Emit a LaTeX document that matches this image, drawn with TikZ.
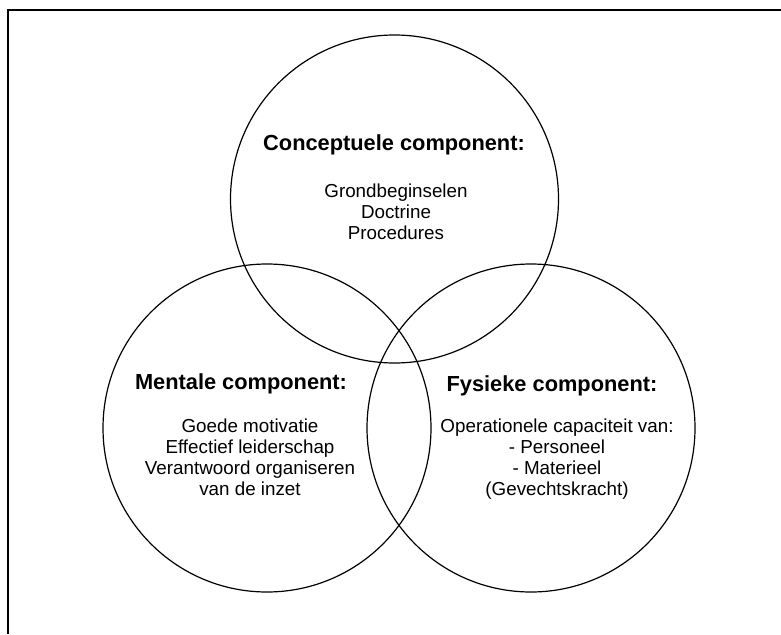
\documentclass[tikz,border=0pt]{standalone}
\usepackage{fontspec}
\setmainfont{Liberation Sans}
\begin{document}
\begin{tikzpicture}[x=1pt,y=-1pt]
\tikzset{
  comp/.style={draw=black, line width=1.2pt, circle, minimum size=328pt, inner sep=0pt},
  head/.style={font=\fontsize{21.8}{24}\selectfont\bfseries, inner sep=0pt},
  body/.style={font=\fontsize{18.8}{21}\selectfont, align=center, inner sep=0pt},
  frame/.style={line width=1.8pt}
}
\useasboundingbox (0,0) rectangle (781,634);
\coordinate (fbl) at (8,634);
\coordinate (ftl) at (8,10);
\coordinate (ftr) at (781,10);
\draw[frame] (fbl) -- (ftl) -- (ftr);

\node[comp] (top) at (394.5,199) {};
\node[comp] (left) at (267,428) {};
\node[comp] (right) at (531,428) {};

\node[head] (thead) at (394,145) {Conceptuele component:};
\node[body] (tbody) at (396,212) {Grondbeginselen\\Doctrine\\Procedures};

\node[head] (lhead) at (241,384) {Mentale component:};
\node[body] (lbody) at (250,457) {Goede motivatie\\Effectief leiderschap\\Verantwoord organiseren\\van de inzet};

\node[head] (rhead) at (552,386) {Fysieke component:};
\node[body] (rbody) at (557,459) {Operationele capaciteit van:\\- Personeel\\- Materieel\\(Gevechtskracht)};
\end{tikzpicture}
\end{document}
